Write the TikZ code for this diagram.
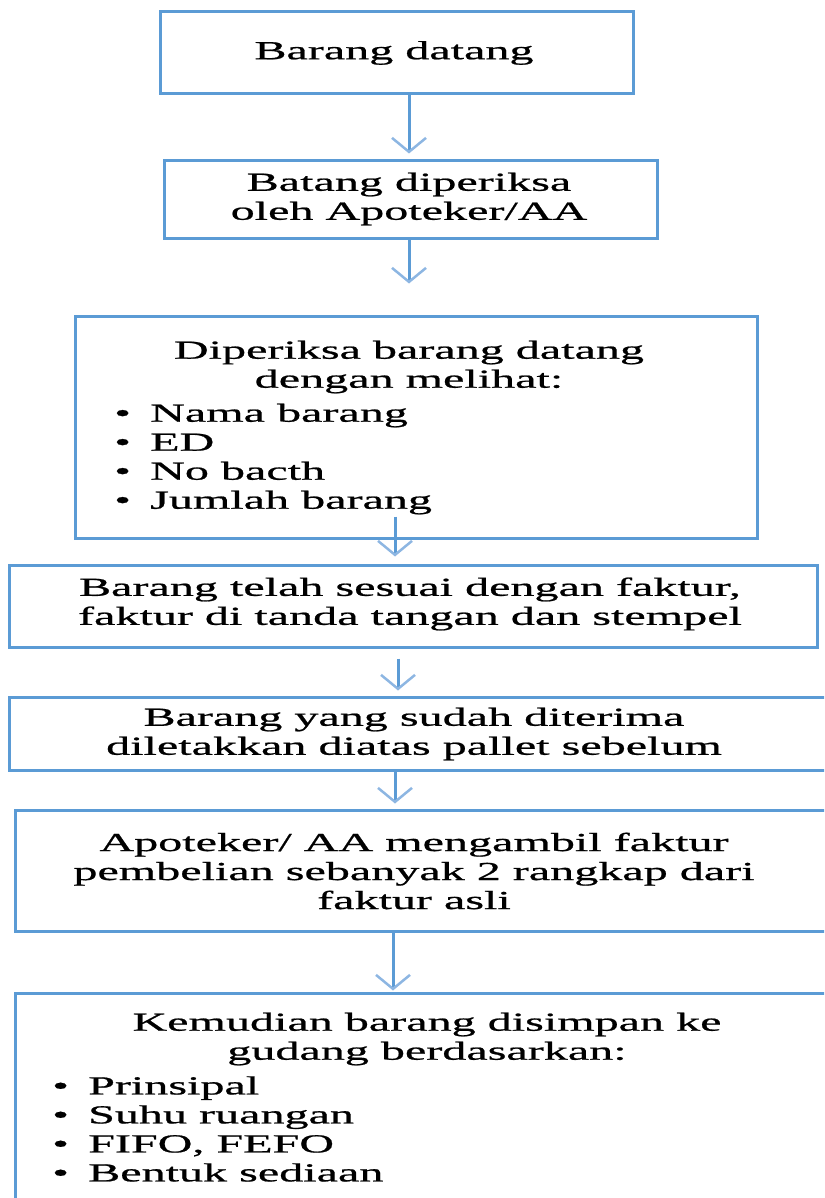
\documentclass[tikz,border=0pt]{standalone}
\usepackage{fontspec}
\setmainfont[FakeStretch=1.85,FakeBold=0.8]{Liberation Serif}
\usetikzlibrary{arrows.meta}
\definecolor{bblue}{HTML}{5B9BD5}
\definecolor{hblue}{HTML}{8DB6E2}
\begin{document}
\begin{tikzpicture}[x=1pt,y=-1pt,
  box/.style={draw=bblue, line width=3pt, inner sep=0pt},
  txt/.style={font=\fontsize{26}{29}\selectfont, align=center, inner sep=0pt, text=black},
  lst/.style={font=\fontsize{26}{29}\selectfont, align=left, inner sep=0pt, anchor=west, text=black},
  arr/.style={draw=bblue, line width=3pt, -{Straight Barb[length=14pt,width=34pt,line width=2.5pt,color=hblue]}},
  bul/.style={}
]
\useasboundingbox (0,0) rectangle (824,1198);
\clip (0,0) rectangle (824,1198);
\newcommand{\bitem}[1]{\makebox[36pt][l]{\textbullet}#1}

% boxes
\node[box, minimum width=473pt, minimum height=82pt] (b1) at (396.5,53) {};
\node[txt] (t1) at (394,53) {Barang datang};

\node[box, minimum width=493.5pt, minimum height=78pt] (b2) at (411,200) {};
\node[txt] (t2) at (409,199) {Batang diperiksa\\oleh Apoteker/AA};

\node[box, minimum width=682pt, minimum height=222pt] (b3) at (416,427) {};
\node[txt] (t3) at (409,367) {Diperiksa barang datang\\dengan melihat:};
\node[lst] (l3) at (114,459) {\bitem{Nama barang}\\\bitem{ED}\\\bitem{No bacth}\\\bitem{Jumlah barang}};

\node[box, minimum width=807.5pt, minimum height=82pt] (b4) at (413.25,606) {};
\node[txt] (t4) at (410,604) {Barang telah sesuai dengan faktur,\\faktur di tanda tangan dan stempel};

\node[box, minimum width=820.5pt, minimum height=73pt] (b5) at (419.75,733.5) {};
\node[txt] (t5) at (414,734) {Barang yang sudah diterima\\diletakkan diatas pallet sebelum};

\node[box, minimum width=817pt, minimum height=121pt] (b6) at (423.5,870.5) {};
\node[txt] (t6) at (414,871) {Apoteker/ AA mengambil faktur\\pembelian sebanyak 2 rangkap dari\\faktur asli};

\node[box, minimum width=825pt, minimum height=240pt] (b7) at (427.5,1113) {};
\node[txt] (t7) at (427,1039) {Kemudian barang disimpan ke\\gudang berdasarkan:};
\node[lst] (l7) at (52,1129) {\bitem{Prinsipal}\\\bitem{Suhu ruangan}\\\bitem{FIFO, FEFO}\\\bitem{Bentuk sediaan}};

% arrow x positions
\coordinate (x1) at (409,0);
\coordinate (x3) at (395,0);
\coordinate (x4) at (398,0);
\coordinate (x5) at (395,0);
\coordinate (x6) at (393,0);

\draw[arr, shorten >=6pt] (b1.south -| x1) -- (b2.north -| x1);
\draw[arr, shorten >=31pt] (b2.south -| x1) -- (b3.north -| x1);
\draw[arr, shorten <=-23pt, shorten >=7pt] (b3.south -| x3) -- (b4.north -| x3);
\draw[arr, shorten <=10pt, shorten >=5pt] (b4.south -| x4) -- (b5.north -| x4);
\draw[arr, shorten >=5pt] (b5.south -| x5) -- (b6.north -| x5);
\draw[arr, shorten >=1pt] (b6.south -| x6) -- (b7.north -| x6);
\end{tikzpicture}
\end{document}
